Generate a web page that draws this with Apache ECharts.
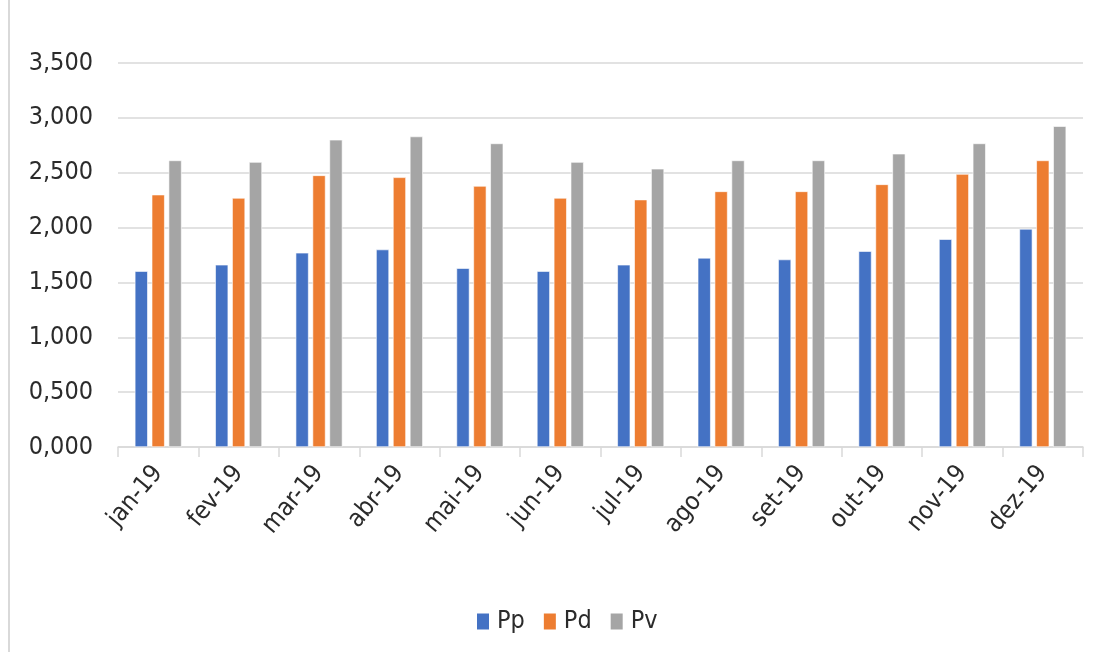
<!DOCTYPE html>
<html>
<head>
<meta charset="utf-8">
<script src="https://cdn.jsdelivr.net/npm/echarts@6/dist/echarts.min.js"></script>
<style>html,body{margin:0;padding:0;background:#fff}#c{width:1105px;height:659px}</style>
</head>
<body>
<div id="c"></div>
<script>
const categories = ['jan-19','fev-19','mar-19','abr-19','mai-19','jun-19','jul-19','ago-19','set-19','out-19','nov-19','dez-19'];
const seriesNames = ['Pp','Pd','Pv'];
const pp = [1.603,1.661,1.770,1.800,1.630,1.603,1.661,1.724,1.709,1.785,1.894,1.988];
const pd = [2.300,2.270,2.476,2.458,2.379,2.270,2.255,2.330,2.330,2.394,2.488,2.612];
const pv = [2.612,2.597,2.800,2.830,2.767,2.597,2.536,2.612,2.612,2.673,2.767,2.924];
const colors = ['#4472C4','#ED7D31','#A5A5A5'];
const font = '"DejaVu Sans Condensed", "Open Sans"';
const txt = '#2b2b2b';
const chart = echarts.init(document.getElementById('c'));
const mk = (name, data, color) => ({
  name, type: 'bar', data, barWidth: 13, barGap: '30%',
  itemStyle: { color, borderColor: '#ffffff', borderWidth: 0.6 }
});
chart.setOption({
  animation: false,
  backgroundColor: '#ffffff',
  color: colors,
  graphic: [{ type: 'line', shape: { x1: 9, y1: 0, x2: 9, y2: 652 }, style: { stroke: '#D9D9D9', lineWidth: 2 } }],
  grid: { left: 118, right: 22, top: 63, bottom: 212 },
  legend: {
    data: seriesNames, top: 604, left: 470, itemWidth: 14, itemHeight: 18, itemGap: 17,
    icon: 'rect',
    textStyle: { fontFamily: font, fontSize: 25, color: txt, padding: [0, 0, 0, 2] }
  },
  xAxis: {
    type: 'category', data: categories,
    axisLine: { lineStyle: { color: '#D9D9D9', width: 1.5 } },
    axisTick: { show: true, length: 10, lineStyle: { color: '#D9D9D9', width: 1.5 } },
    axisLabel: { rotate: 50, fontFamily: font, fontSize: 25, color: txt, margin: 22, interval: 0 }
  },
  yAxis: {
    type: 'value', min: 0, max: 3.5, interval: 0.5,
    axisLine: { show: false }, axisTick: { show: false },
    splitLine: { lineStyle: { color: '#D9D9D9', width: 1.5 } },
    axisLabel: {
      fontFamily: font, fontSize: 25, color: txt, margin: 25,
      formatter: v => v.toFixed(3).replace('.', ',')
    }
  },
  series: [mk('Pp', pp, colors[0]), mk('Pd', pd, colors[1]), mk('Pv', pv, colors[2])]
});
</script>
</body>
</html>
